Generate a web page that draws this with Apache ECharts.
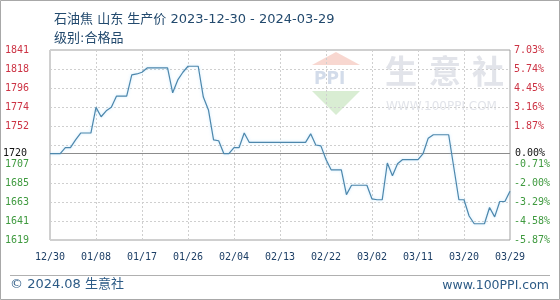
<!DOCTYPE html>
<html>
<head>
<meta charset="utf-8">
<script src="https://cdn.jsdelivr.net/npm/echarts@6/dist/echarts.min.js"></script>
<style>
html,body{margin:0;padding:0;background:#fff;}
#c{width:560px;height:300px;}
</style>
</head>
<body>
<div id="c"></div>
<script>
const categories = [
 '12/30','12/31',
 '01/01','01/02','01/03','01/04','01/05','01/06','01/07','01/08','01/09','01/10',
 '01/11','01/12','01/13','01/14','01/15','01/16','01/17','01/18','01/19','01/20',
 '01/21','01/22','01/23','01/24','01/25','01/26','01/27','01/28','01/29','01/30','01/31',
 '02/01','02/02','02/03','02/04','02/05','02/06','02/07','02/08','02/09','02/10',
 '02/11','02/12','02/13','02/14','02/15','02/16','02/17','02/18','02/19','02/20',
 '02/21','02/22','02/23','02/24','02/25','02/26','02/27','02/28','02/29',
 '03/01','03/02','03/03','03/04','03/05','03/06','03/07','03/08','03/09','03/10',
 '03/11','03/12','03/13','03/14','03/15','03/16','03/17','03/18','03/19','03/20',
 '03/21','03/22','03/23','03/24','03/25','03/26','03/27','03/28','03/29'
];
const prices = [
 1720,1720,1720,1727,1727,1736,1744,1744,1744,1774,
 1763,1770,1774,1787,1787,1787,1812,1813,1815,1820,
 1820,1820,1820,1820,1791,1806,1815,1822,1822,1822,
 1786,1771,1736,1735,1720,1720,1727,1727,1744,1733,
 1733,1733,1733,1733,1733,1733,1733,1733,1733,1733,
 1733,1743,1730,1729,1713,1701,1701,1701,1672,1683,
 1683,1683,1683,1667,1666,1666,1709,1694,1708,1713,
 1713,1713,1713,1720,1738,1742,1742,1742,1742,1704,
 1666,1666,1647,1638,1638,1638,1657,1646,1664,1664,
 1676
];
const baseValue = 1720;
const axisMin = 1619;
const axisMax = 1841;
const leftTicks = ['1619','1641','1663','1685','1707','','1752','1774','1796','1818','1841'];
const rightTicks = ['-5.87%','-4.58%','-3.29%','-2.00%','-0.71%','','1.87%','3.16%','4.45%','5.74%','7.03%'];
const baseLeftLabel = '1720';
const baseRightLabel = '0.00%';
const titleText = '石油焦 山东 生产价 2023-12-30 - 2024-03-29';
const subTitleText = '级别:合格品';
const footLeft = '© 2024.08 生意社';
const footRight = 'www.100PPI.com';

const RED = '#cc3344', GREEN = '#3f9a3f', MONO = "'DejaVu Sans Mono', monospace";
const CJK = "'Noto Sans CJK SC', sans-serif";
const MIX = "'DejaVu Sans', 'Noto Sans CJK SC', sans-serif";

function tickFmt(arr){
  return function(v){
    const i = Math.round(v);
    const t = arr[i];
    if(!t) return '';
    return (i > 5 ? '{r|' : '{g|') + t + '}';
  };
}
const rich = {
  r:{color:RED, fontFamily:MONO, fontSize:10},
  g:{color:GREEN, fontFamily:MONO, fontSize:10}
};

const chart = echarts.init(document.getElementById('c'), null, {renderer:'canvas'});
chart.setOption({
  animation:false,
  backgroundColor:'#fff',
  title:[
    {text:titleText, left:49, top:8, textStyle:{fontFamily:MIX, fontSize:13, fontWeight:'normal', color:'#234a6e'}},
    {text:subTitleText, left:49, top:27, textStyle:{fontFamily:MIX, fontSize:13, fontWeight:'normal', color:'#234a6e'}}
  ],
  grid:{left:50, right:50, top:50, bottom:60, show:true, borderColor:'#a0a0a0', borderWidth:1, backgroundColor:'transparent'},
  xAxis:{
    type:'category', data:categories, boundaryGap:false,
    axisLine:{show:false}, axisTick:{show:false},
    axisLabel:{interval:8, color:'#1d3f66', fontFamily:MONO, fontSize:10, margin:12, showMaxLabel:true},
    splitLine:{show:true, interval:8, lineStyle:{color:'#cfcfcf', type:[2,2]}}
  },
  yAxis:[
    {type:'value', min:axisMin, max:axisMax, show:false, splitLine:{show:false}},
    {type:'value', position:'left', min:0, max:10, interval:1,
      axisLine:{show:false}, axisTick:{show:false},
      axisLabel:{formatter:tickFmt(leftTicks), rich:rich, align:'left', margin:45},
      splitLine:{show:true, lineStyle:{color:'#cfcfcf', type:[2,2]}}},
    {type:'value', position:'right', min:0, max:10, interval:1,
      axisLine:{show:false}, axisTick:{show:false},
      axisLabel:{formatter:tickFmt(rightTicks), rich:rich, align:'left', margin:4},
      splitLine:{show:false}}
  ],
  series:[{
    type:'line', yAxisIndex:0, data:prices, symbol:'none', smooth:false,
    lineStyle:{color:'#4d87ac', width:1.2, shadowColor:'rgba(140,210,255,0.55)', shadowBlur:3},
    markLine:{
      silent:true, symbol:['none','none'],
      lineStyle:{color:'#8c8c8c', type:'solid', width:1},
      data:[
        {yAxis:baseValue, label:{show:true, position:'start', formatter:baseLeftLabel, color:'#111', fontFamily:MONO, fontSize:10, distance:23}},
        {yAxis:baseValue, label:{show:true, position:'end', formatter:baseRightLabel, color:'#111', fontFamily:MONO, fontSize:10, distance:5}}
      ]
    },
    z:5
  }],
  graphic:[
    {type:'rect', z:-20, silent:true, shape:{x:0.5, y:0.5, width:559, height:299}, style:{fill:'none', stroke:'#a8a8a8', lineWidth:1}},
    {type:'line', z:-20, silent:true, shape:{x1:10, y1:275.5, x2:550, y2:275.5}, style:{stroke:'#b0b0b0', lineWidth:1}},
    {type:'text', z:1, left:10, top:278, style:{text:footLeft, fontFamily:MIX, fontSize:13, fill:'#2d5b86'}},
    {type:'text', z:1, right:11, top:279, style:{text:footRight, fontFamily:"'DejaVu Sans', sans-serif", fontSize:12.5, fill:'#2d5b86'}},
    {type:'polygon', z:-10, silent:true, shape:{points:[[336,52],[360,65],[312,65]]}, style:{fill:'#f6cdc4', opacity:0.8}},
    {type:'polygon', z:-10, silent:true, shape:{points:[[312,91],[360,91],[336,115]]}, style:{fill:'#cfe9c8', opacity:0.8}},
    {type:'text', z:-10, silent:true, left:314, top:71, style:{text:'PPI', fontFamily:"'DejaVu Sans', sans-serif", fontSize:17, fontWeight:'bold', fill:'#d3dcea', letterSpacing:3}},
    {type:'text', z:-10, silent:true, left:385, top:55, style:{text:'生', fontFamily:CJK, fontSize:32, fontWeight:'bold', fill:'#e2e4ea'}},
    {type:'text', z:-10, silent:true, left:429, top:55, style:{text:'意', fontFamily:CJK, fontSize:32, fontWeight:'bold', fill:'#e2e4ea'}},
    {type:'text', z:-10, silent:true, left:472, top:55, style:{text:'社', fontFamily:CJK, fontSize:32, fontWeight:'bold', fill:'#e2e4ea'}},
    {type:'text', z:-10, silent:true, left:386, top:101, style:{text:'WWW.100PPI.COM', fontFamily:"'DejaVu Sans', sans-serif", fontSize:12, fill:'#e2e4ea'}}
  ]
});
</script>
</body>
</html>
